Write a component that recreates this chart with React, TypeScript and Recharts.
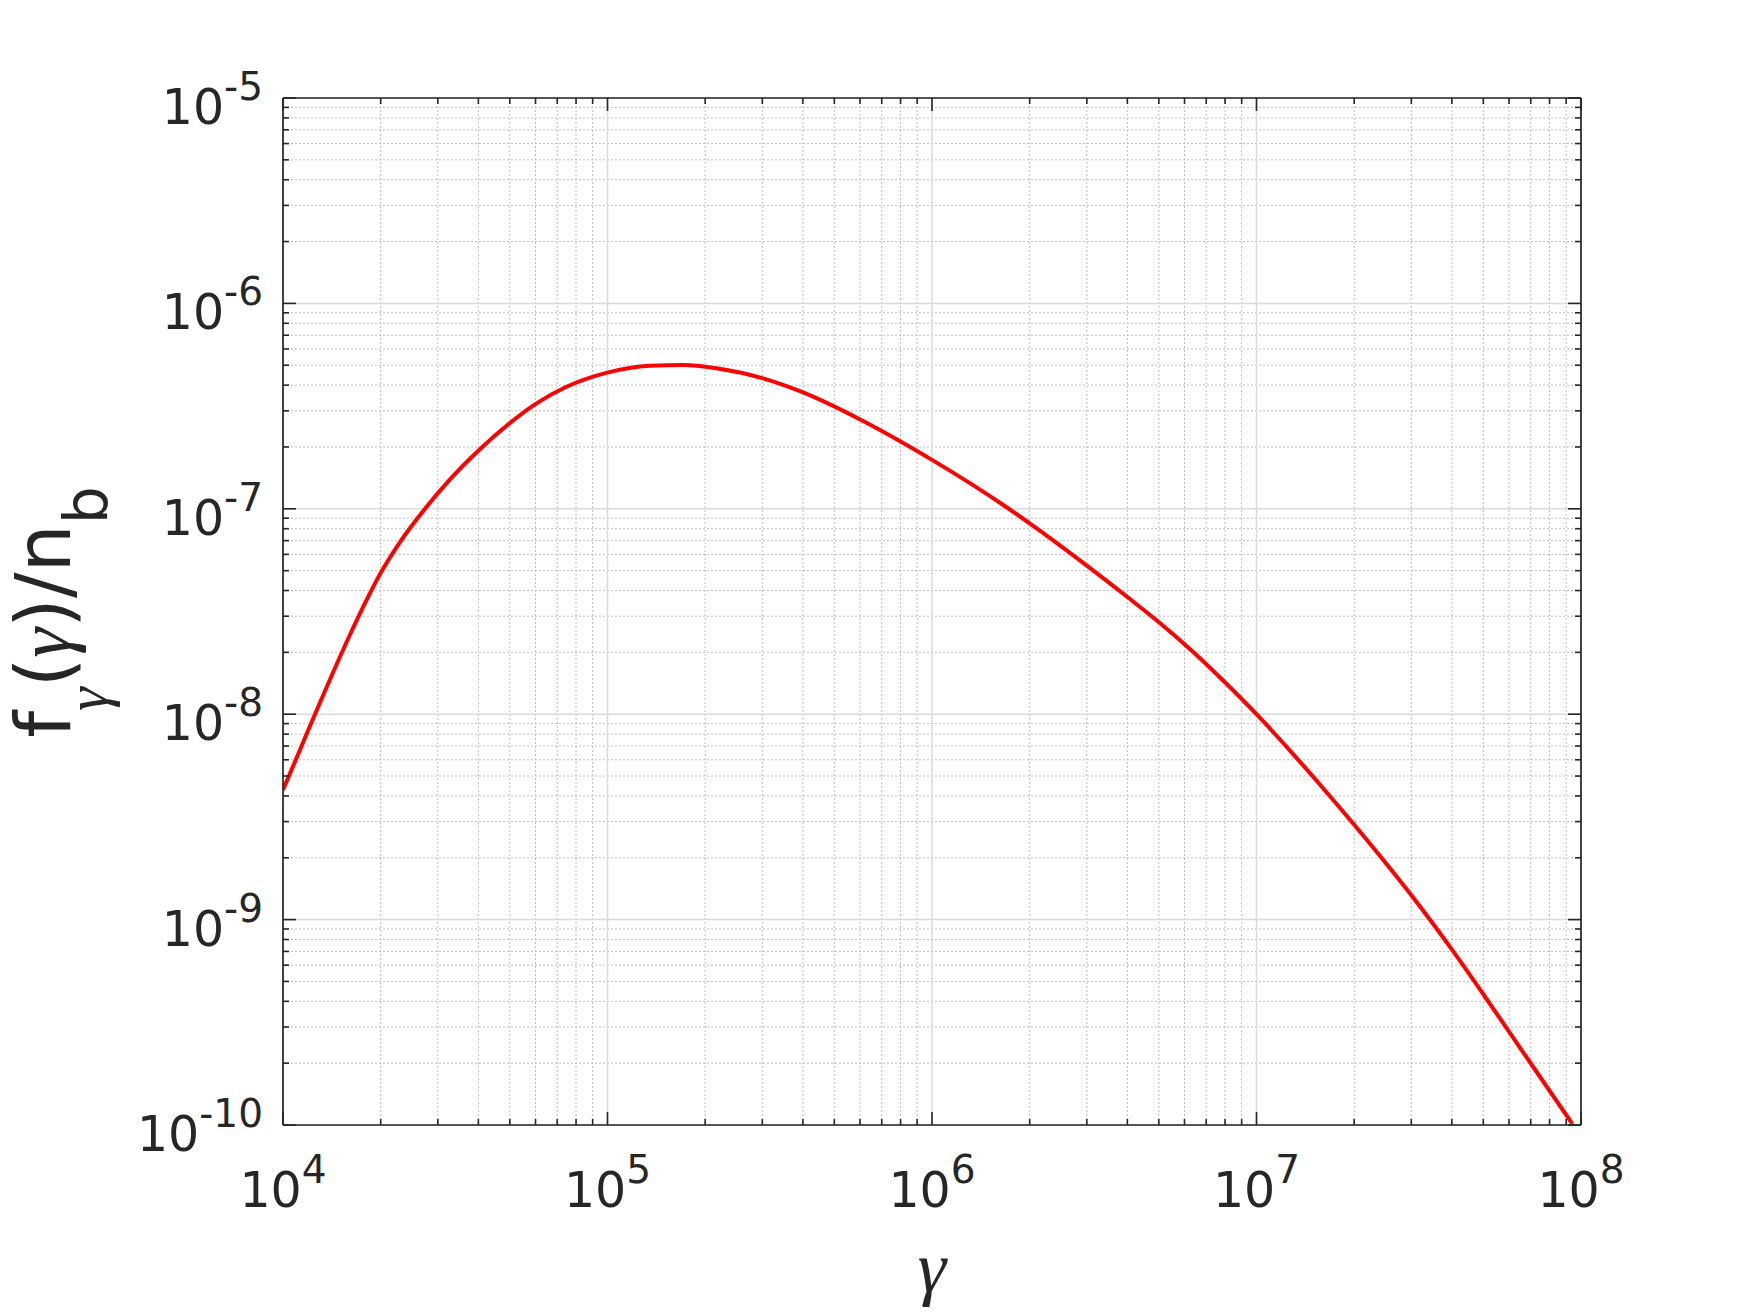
import React from 'react';
import { LineChart, Line, XAxis, YAxis, CartesianGrid, Label } from 'recharts';

// Lorentz factor gamma (x) and f_gamma(gamma)/n_b (y)
const GAMMA = [
  1.0e4, 1.125e4, 1.268e4, 1.426e4, 1.603e4, 1.807e4, 1.986e4, 2.291e4, 2.767e4, 3.266e4,
  4.036e4, 4.989e4, 6.026e4, 7.447e4, 9.908e4, 1.349e5, 1.71e5, 2.163e5, 3.013e5, 3.954e5,
  6.067e5, 1.0e6, 1.671e6, 2.0e6, 3.013e6, 4.018e6, 5.035e6, 6.368e6, 7.907e6, 1.0e7,
  1.288e7, 1.629e7, 2.009e7, 2.427e7, 3.013e7, 4.018e7, 5.0e7, 5.984e7, 7.178e7, 9.397e7,
];
const F_GAMMA = [
  4.28e-9, 6.64e-9, 1.04e-8, 1.596e-8, 2.41e-8, 3.58e-8, 4.78e-8, 6.87e-8, 1.021e-7, 1.387e-7,
  1.945e-7, 2.606e-7, 3.25e-7, 3.917e-7, 4.592e-7, 4.977e-7, 5.012e-7, 4.831e-7, 4.315e-7, 3.715e-7,
  2.698e-7, 1.73e-7, 1.035e-7, 8.49e-8, 5.26e-8, 3.7e-8, 2.78e-8, 2.014e-8, 1.455e-8, 1.0e-8,
  6.47e-9, 4.24e-9, 2.87e-9, 2.0e-9, 1.303e-9, 7.08e-10, 4.33e-10, 2.864e-10, 1.884e-10, 1.014e-10,
];

const X_DECADES = [1e4, 1e5, 1e6, 1e7, 1e8];
const X_TICK_EXP = ['4', '5', '6', '7', '8'];
const Y_DECADES = [1e-10, 1e-9, 1e-8, 1e-7, 1e-6, 1e-5];
const Y_TICK_EXP = ['-10', '-9', '-8', '-7', '-6', '-5'];
const MINOR_MULT = [2, 3, 4, 5, 6, 7, 8, 9];

const X_LABEL = 'γ';

const minorOf = (decades: number[]) =>
  decades.slice(0, -1).flatMap((d) => MINOR_MULT.map((m) => d * m));
const X_MINOR = minorOf(X_DECADES);
const Y_MINOR = minorOf(Y_DECADES);
const X_TICKS = [...X_DECADES, ...X_MINOR].sort((a, b) => a - b);
const Y_TICKS = [...Y_DECADES, ...Y_MINOR].sort((a, b) => a - b);
const X_DOMAIN = [X_DECADES[0], X_DECADES[X_DECADES.length - 1]];
const Y_DOMAIN = [Y_DECADES[0], Y_DECADES[Y_DECADES.length - 1]];

const data = GAMMA.map((g, i) => ({ g, f: F_GAMMA[i] }));

const FONT = '"DejaVu Sans", sans-serif';
const SERIF = '"Liberation Serif", "DejaVu Serif", serif';
const INK = '#262626';
const MAJOR_LEN = 13;
const MINOR_LEN = 6;
const TICK_W = 1.6;

const majorIndex = (v: number, decades: number[]) =>
  decades.findIndex((d) => Math.abs(Math.log10(v) - Math.log10(d)) < 1e-6);

const BottomTick = (props: any) => {
  const { x, y, payload } = props;
  const idx = majorIndex(payload.value, X_DECADES);
  const len = idx >= 0 ? MAJOR_LEN : MINOR_LEN;
  return (
    <g>
      <line x1={x} y1={y} x2={x} y2={y - len} stroke={INK} strokeWidth={TICK_W} />
      {idx >= 0 && (
        <text x={x} y={y + 82} textAnchor="middle" fontFamily={FONT} fontSize={49} fill={INK}>
          <tspan>10</tspan>
          <tspan dy={-24} fontSize={39}>{X_TICK_EXP[idx]}</tspan>
        </text>
      )}
    </g>
  );
};

const TopTick = (props: any) => {
  const { x, y, payload } = props;
  const idx = majorIndex(payload.value, X_DECADES);
  const len = idx >= 0 ? MAJOR_LEN : MINOR_LEN;
  return <line x1={x} y1={y} x2={x} y2={y + len} stroke={INK} strokeWidth={TICK_W} />;
};

const LeftTick = (props: any) => {
  const { x, y, payload } = props;
  const idx = majorIndex(payload.value, Y_DECADES);
  const len = idx >= 0 ? MAJOR_LEN : MINOR_LEN;
  return (
    <g>
      <line x1={x} y1={y} x2={x + len} y2={y} stroke={INK} strokeWidth={TICK_W} />
      {idx >= 0 && (
        <text x={x - 20} y={y + 26} textAnchor="end" fontFamily={FONT} fontSize={49} fill={INK}>
          <tspan>10</tspan>
          <tspan dy={-24} fontSize={39}>{Y_TICK_EXP[idx]}</tspan>
        </text>
      )}
    </g>
  );
};

const RightTick = (props: any) => {
  const { x, y, payload } = props;
  const idx = majorIndex(payload.value, Y_DECADES);
  const len = idx >= 0 ? MAJOR_LEN : MINOR_LEN;
  return <line x1={x} y1={y} x2={x - len} y2={y} stroke={INK} strokeWidth={TICK_W} />;
};

const YTitle = () => (
  <text
    transform="translate(70,612) rotate(-90)"
    textAnchor="middle"
    fontFamily={FONT}
    fontSize={76}
    fill={INK}
  >
    <tspan>f</tspan>
    <tspan fontFamily={SERIF} fontStyle="italic" fontSize={60} dy={37}>γ</tspan>
    <tspan dy={-37}>(</tspan>
    <tspan fontFamily={SERIF} fontStyle="italic">γ</tspan>
    <tspan>)/n</tspan>
    <tspan fontSize={60} dy={37}>b</tspan>
  </text>
);

const XTitle = () => (
  <text x={932} y={1292} textAnchor="middle" fontFamily={SERIF} fontStyle="italic" fontSize={72} fill={INK}>
    {X_LABEL}
  </text>
);

const gridX = (id: string, ticks: number[]) => (
  <XAxis
    key={id}
    xAxisId={id}
    dataKey="g"
    type="number"
    scale="log"
    domain={X_DOMAIN}
    allowDataOverflow
    ticks={ticks}
    interval={0}
    hide
  />
);
const gridY = (id: string, ticks: number[]) => (
  <YAxis
    key={id}
    yAxisId={id}
    type="number"
    scale="log"
    domain={Y_DOMAIN}
    allowDataOverflow
    ticks={ticks}
    interval={0}
    hide
  />
);

export default function App() {
  return (
    <div style={{ position: 'absolute', left: 0, top: 0, width: 1748, height: 1312, background: '#ffffff' }}>
      <LineChart
        width={1748}
        height={1312}
        data={data}
        margin={{ top: 97, right: 166, bottom: 186, left: 282 }}
      >
        {gridX('gmin', X_MINOR)}
        {gridX('gmaj', X_DECADES)}
        {gridY('gmin', Y_MINOR)}
        {gridY('gmaj', Y_DECADES)}
        <CartesianGrid
          xAxisId="gmin"
          yAxisId="gmin"
          stroke="#bdbdbd"
          strokeWidth={1}
          strokeDasharray="2 2"
          syncWithTicks
        />
        <CartesianGrid
          xAxisId="gmaj"
          yAxisId="gmaj"
          stroke="#dadada"
          strokeWidth={1.5}
          syncWithTicks
        />
        <XAxis
          dataKey="g"
          type="number"
          scale="log"
          domain={X_DOMAIN}
          allowDataOverflow
          ticks={X_TICKS}
          interval={0}
          height={1}
          tickSize={0}
          tickMargin={0}
          tickLine={false}
          tick={BottomTick}
          axisLine={{ stroke: INK, strokeWidth: 1.7 }}
        >
          <Label content={XTitle} />
        </XAxis>
        <XAxis
          xAxisId="top"
          orientation="top"
          dataKey="g"
          type="number"
          scale="log"
          domain={X_DOMAIN}
          allowDataOverflow
          ticks={X_TICKS}
          interval={0}
          height={1}
          tickSize={0}
          tickMargin={0}
          tickLine={false}
          tick={TopTick}
          axisLine={{ stroke: INK, strokeWidth: 1.7 }}
        />
        <YAxis
          type="number"
          scale="log"
          domain={Y_DOMAIN}
          allowDataOverflow
          ticks={Y_TICKS}
          interval={0}
          width={1}
          tickSize={0}
          tickMargin={0}
          tickLine={false}
          tick={LeftTick}
          axisLine={{ stroke: INK, strokeWidth: 1.7 }}
        >
          <Label content={YTitle} />
        </YAxis>
        <YAxis
          yAxisId="right"
          orientation="right"
          type="number"
          scale="log"
          domain={Y_DOMAIN}
          allowDataOverflow
          ticks={Y_TICKS}
          interval={0}
          width={1}
          tickSize={0}
          tickMargin={0}
          tickLine={false}
          tick={RightTick}
          axisLine={{ stroke: INK, strokeWidth: 1.7 }}
        />
        <Line
          dataKey="f"
          type="monotone"
          stroke="#ff0000"
          strokeWidth={4}
          dot={false}
          activeDot={false}
          isAnimationActive={false}
        />
      </LineChart>
    </div>
  );
}
